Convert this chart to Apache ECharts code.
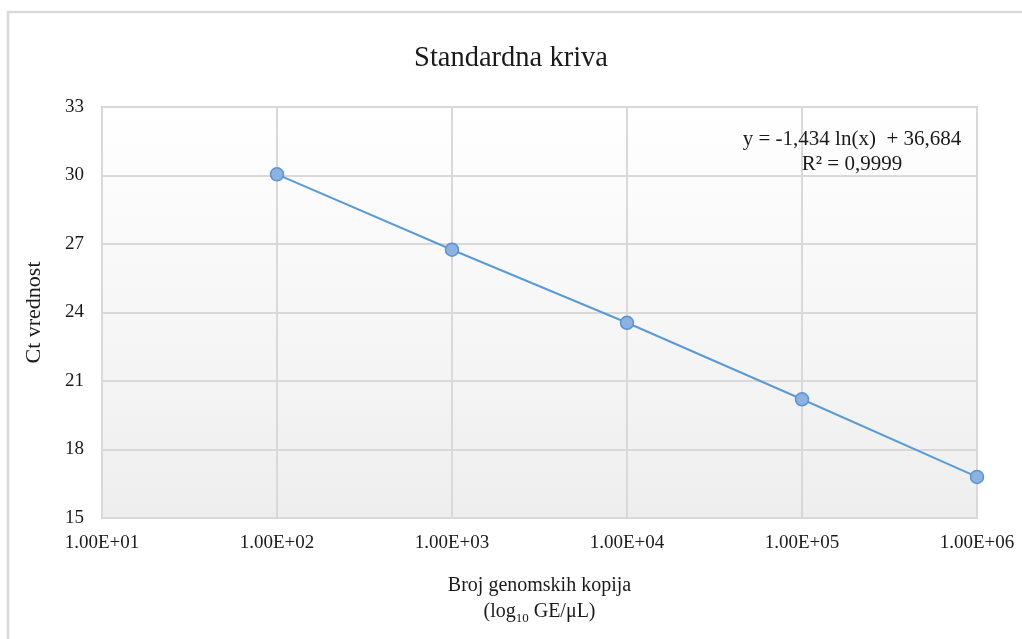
<!DOCTYPE html>
<html>
<head>
<meta charset="utf-8">
<script src="https://cdn.jsdelivr.net/npm/echarts@6/dist/echarts.min.js"></script>
<style>
html,body{margin:0;padding:0;background:#fff;}
#chart{width:1022px;height:639px;}
</style>
</head>
<body>
<div id="chart"></div>
<script>
// ---- data ----
const copies = [1e2, 1e3, 1e4, 1e5, 1e6];
const ctValues = [30.05, 26.75, 23.55, 20.2, 16.8];
const xTickLabels = ['1.00E+01', '1.00E+02', '1.00E+03', '1.00E+04', '1.00E+05', '1.00E+06'];
const yTicks = [15, 18, 21, 24, 27, 30, 33];
const titleText = 'Standardna kriva';
const yAxisName = 'Ct vrednost';
const equationLine1 = 'y = -1,434 ln(x)  + 36,684';
const equationLine2 = 'R² = 0,9999';

const FONT = '"Liberation Serif", "Times New Roman", serif';
const chart = echarts.init(document.getElementById('chart'));

const option = {
  backgroundColor: '#ffffff',
  animation: false,
  title: {
    text: titleText,
    left: 'center',
    top: 39,
    textStyle: { fontFamily: FONT, fontSize: 28.5, fontWeight: 'normal', color: '#1a1a1a' }
  },
  graphic: [
    {
      type: 'rect',
      shape: { x: 8, y: 12, width: 1100, height: 700 },
      style: { fill: 'none', stroke: '#d9d9d9', lineWidth: 2.5 },
      silent: true, z: -1
    },
    {
      type: 'text',
      x: 852, y: 127,
      style: {
        text: equationLine1 + '\n' + equationLine2,
        textAlign: 'center',
        font: '21px ' + FONT,
        fill: '#1a1a1a',
        lineHeight: 25
      },
      z: 10
    }
  ],
  grid: {
    left: 102, right: 45, top: 107, bottom: 121,
    show: true,
    borderColor: '#c8c8c8',
    borderWidth: 2,
    backgroundColor: new echarts.graphic.LinearGradient(0, 0, 0, 1, [
      { offset: 0, color: '#ffffff' },
      { offset: 1, color: '#eeeeee' }
    ])
  },
  xAxis: {
    type: 'log',
    logBase: 10,
    min: 10,
    max: 1e6,
    name: '{a|Broj genomskih kopija}\n{b|(log}{s|10}{b| GE/μL)}',
    nameLocation: 'middle',
    nameGap: 55,
    nameTextStyle: {
      fontFamily: FONT, color: '#1a1a1a',
      rich: {
        a: { fontFamily: FONT, fontSize: 20, color: '#1a1a1a', lineHeight: 26 },
        b: { fontFamily: FONT, fontSize: 20, color: '#1a1a1a', lineHeight: 26 },
        s: { fontFamily: FONT, fontSize: 13, color: '#1a1a1a', lineHeight: 26, verticalAlign: 'bottom', padding: [8, 0, 0, 0] }
      }
    },
    axisLine: { show: false },
    axisTick: { show: false },
    splitLine: { show: true, lineStyle: { color: '#d9d9d9', width: 2 } },
    minorTick: { show: false },
    axisLabel: {
      margin: 16,
      fontFamily: FONT, fontSize: 19, color: '#1a1a1a',
      formatter: function (v) {
        const i = Math.round(Math.log10(v)) - 1;
        return xTickLabels[i] !== undefined ? xTickLabels[i] : '';
      }
    }
  },
  yAxis: {
    type: 'value',
    min: yTicks[0],
    max: yTicks[yTicks.length - 1],
    interval: 3,
    name: yAxisName,
    nameLocation: 'middle',
    nameGap: 57,
    nameRotate: 90,
    nameTextStyle: { fontFamily: FONT, fontSize: 22, color: '#1a1a1a' },
    axisLine: { show: false },
    axisTick: { show: false },
    splitLine: { show: true, lineStyle: { color: '#d9d9d9', width: 2 } },
    axisLabel: { margin: 18, fontFamily: FONT, fontSize: 19, color: '#1a1a1a' }
  },
  series: [{
    type: 'line',
    data: copies.map((c, i) => [c, ctValues[i]]),
    symbol: 'circle',
    symbolSize: 13,
    lineStyle: { color: '#5b9bd5', width: 2 },
    itemStyle: { color: '#8db2e0', borderColor: '#5b93d3', borderWidth: 1.5 },
    z: 5
  }]
};
chart.setOption(option);
</script>
</body>
</html>
